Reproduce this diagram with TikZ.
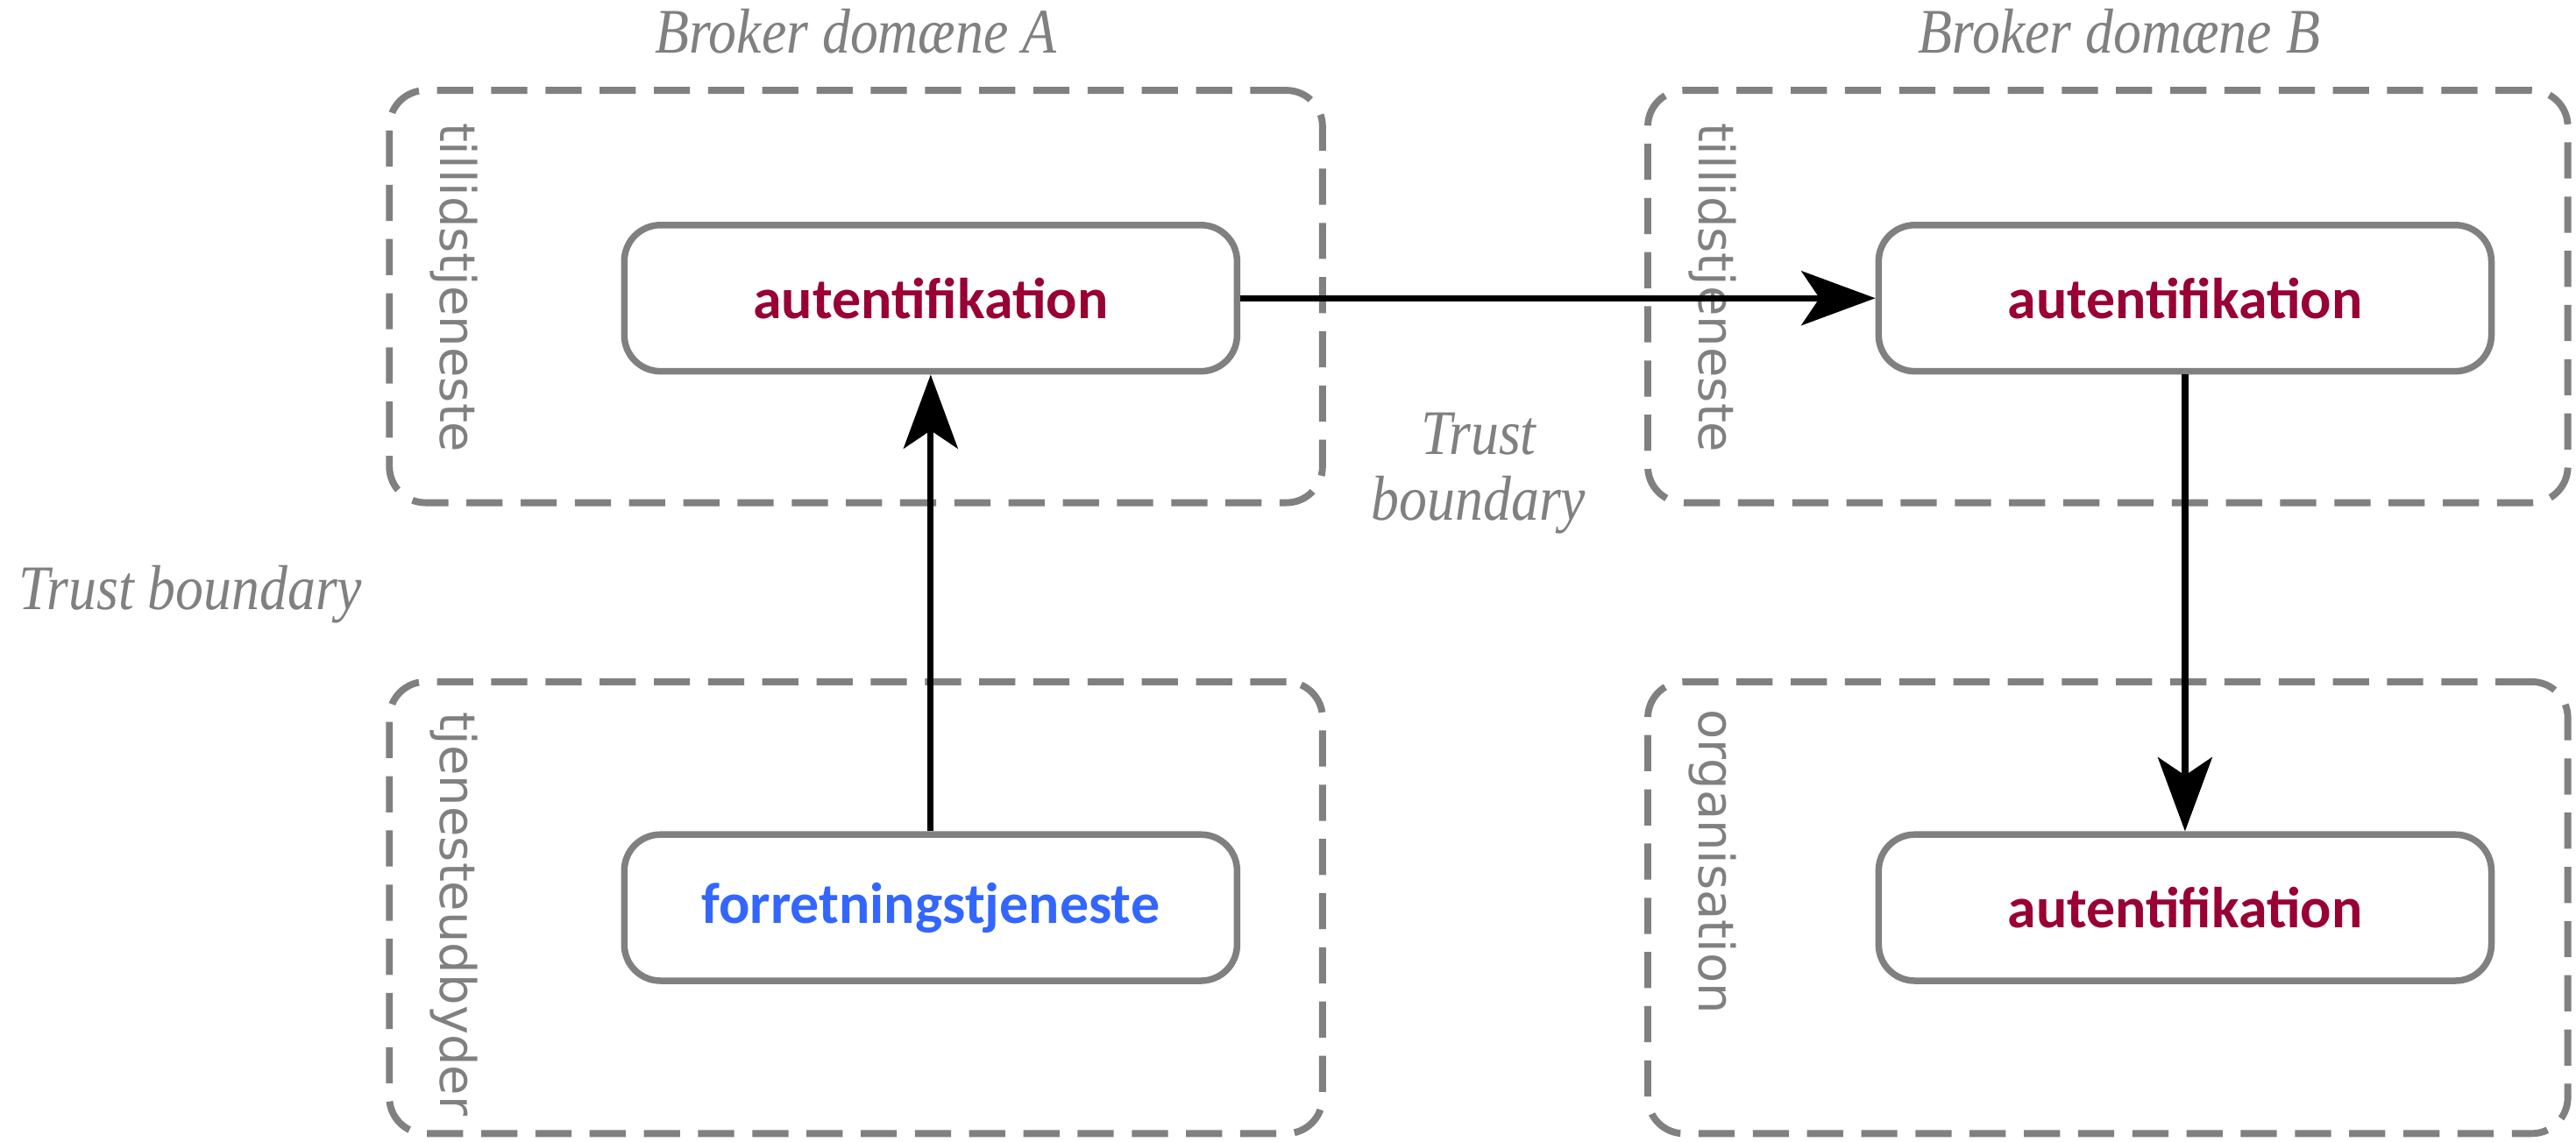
\documentclass[tikz,border=0pt]{standalone}
\usepackage{fontspec}
\setmainfont{Liberation Serif}
\newfontfamily\titlefont{Liberation Serif}[FakeStretch=0.88]
\newfontfamily\boxfont{Carlito}
\newfontfamily\sidefont{DejaVu Sans}
\usepackage{tikz}
\usetikzlibrary{arrows.meta}

\definecolor{r128g128b128}{rgb}{0.501961,0.501961,0.501961}
\definecolor{r153g0b51}{rgb}{0.600000,0.000000,0.200000}
\definecolor{r51g102b255}{rgb}{0.200000,0.400000,1.000000}

\tikzset{
  domainbox/.style={draw=r128g128b128, line width=0.042cm, dash pattern=on 0.22cm off 0.11cm,
    rounded corners=0.22cm, inner sep=0pt},
  servicebox/.style={draw=r128g128b128, line width=0.04cm, rounded corners=0.22cm,
    minimum width=3.73cm, minimum height=0.89cm, inner sep=0pt,
    font=\boxfont\bfseries\fontsize{10}{12}\selectfont},
  sidelabel/.style={text=r128g128b128, rotate=-90, anchor=west, inner sep=0pt,
    text height=0.75em, text depth=0.25em, font=\sidefont\fontsize{8.5}{10}\selectfont},
  titlelabel/.style={text=r128g128b128, inner sep=0pt, align=center,
    font=\titlefont\itshape\fontsize{11}{11.4}\selectfont},
  flow/.style={draw=black, line width=0.038cm, -{Stealth[length=0.45cm, width=0.33cm, inset=0.11cm]}}
}

\begin{document}
\begin{tikzpicture}
  \useasboundingbox (0,0) rectangle (15.68,-6.95);

  % Domain boxes (dashed)
  \node [domainbox, minimum width=5.68cm, minimum height=2.51cm] (tilA) at (5.21,-1.805) {};
  \node [domainbox, minimum width=5.68cm, minimum height=2.75cm] (tjen) at (5.21,-5.525) {};
  \node [domainbox, minimum width=5.60cm, minimum height=2.51cm] (tilB) at (12.83,-1.805) {};
  \node [domainbox, minimum width=5.60cm, minimum height=2.75cm] (org) at (12.83,-5.525) {};

  % Side labels of the domain boxes
  \node [sidelabel] (labtilA) at (2.77,-0.74) {tillidstjeneste};
  \node [sidelabel] (labtjen) at (2.77,-4.33) {tjenesteudbyder};
  \node [sidelabel] (labtilB) at (10.43,-0.74) {tillidstjeneste};
  \node [sidelabel] (laborg) at (10.43,-4.31) {organisation};

  % Titles and trust boundaries
  \node [titlelabel] (brokerA) at (5.21,-0.19) {Broker domæne A};
  \node [titlelabel] (brokerB) at (12.90,-0.19) {Broker domæne B};
  \node [titlelabel] (trustL) at (1.16,-3.62) {Trust boundary};
  \node [titlelabel] (trustM) at (9.00,-2.88) {Trust\\boundary};

  % Services
  \node [servicebox, text=r153g0b51] (autA) at (5.665,-1.815) {autentifikation};
  \node [servicebox, text=r153g0b51] (autB) at (13.30,-1.815) {autentifikation};
  \node [servicebox, text=r51g102b255] (forr) at (5.665,-5.525) {forretningstjeneste};
  \node [servicebox, text=r153g0b51] (autC) at (13.30,-5.525) {autentifikation};

  % Flows
  \draw [flow] (forr) -- (autA);
  \draw [flow] (autA) -- (autB);
  \draw [flow] (autB) -- (autC);
\end{tikzpicture}
\end{document}
